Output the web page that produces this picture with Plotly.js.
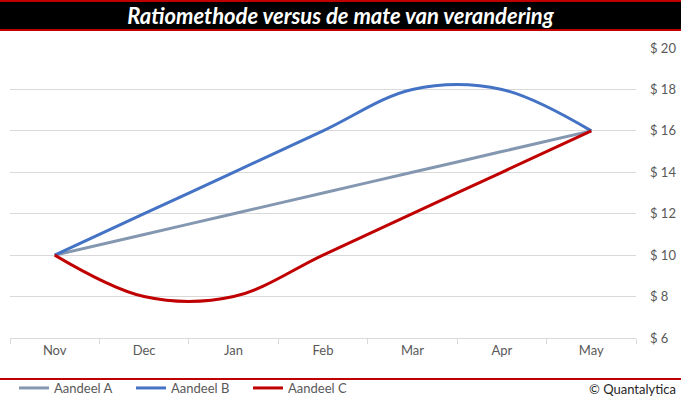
<!DOCTYPE html>
<html>
<head>
<meta charset="utf-8">
<script src="https://cdn.plot.ly/plotly-3.0.1.min.js"></script>
<style>html,body{margin:0;padding:0;background:#fff;}#chart{width:681px;height:399px;}</style>
</head>
<body>
<div id="chart"></div>
<script>
const months = ["Nov", "Dec", "Jan", "Feb", "Mar", "Apr", "May"];
const aandeelA = [10, 11, 12, 13, 14, 15, 16];
const aandeelB = [10, 12, 14, 16, 18, 18, 16];
const aandeelC = [10, 8, 8, 10, 12, 14, 16];
const seriesNames = ["Aandeel A", "Aandeel B", "Aandeel C"];
const yTicks = [6, 8, 10, 12, 14, 16, 18, 20];
const yTickLabels = yTicks.map(v => "$ " + v);

const W = 681, H = 399, L = 10, R = 45, T = 48, B = 61;
const pw = W - L - R, ph = H - T - B;
const px = x => (x - L) / pw;
const py = y => (H - B - y) / ph;
const FONT = "Lato, 'Liberation Sans', sans-serif";

const mk = (y, name, color) => ({
  x: months, y: y, name: name, type: "scatter", mode: "lines",
  line: {color: color, width: 3, shape: "spline", smoothing: 1},
  hoverinfo: "skip"
});

const data = [
  mk(aandeelA, seriesNames[0], "#8497B0"),
  mk(aandeelB, seriesNames[1], "#4472C4"),
  mk(aandeelC, seriesNames[2], "#C00000")
];

const layout = {
  width: W, height: H,
  margin: {l: L, r: R, t: T, b: B, pad: 0, autoexpand: false},
  paper_bgcolor: "#fff", plot_bgcolor: "#fff",
  font: {family: FONT, size: 13, color: "#595959"},
  title: {
    text: "<b><i>Ratiomethode versus de mate van verandering</i></b>",
    font: {family: FONT, size: 22, color: "#ffffff"},
    xref: "paper", x: px(340.5), xanchor: "center",
    yref: "container", y: 1 - 16.5 / H, yanchor: "middle"
  },
  xaxis: {
    type: "category", range: [-0.5, 6.5], fixedrange: true,
    showgrid: false, zeroline: false,
    showline: true, linecolor: "#d9d9d9", linewidth: 1,
    ticks: "outside", tickson: "boundaries", ticklen: 5, tickcolor: "#d9d9d9",
    tickfont: {family: FONT, size: 13, color: "#595959"}
  },
  yaxis: {
    range: [6, 20], side: "right", fixedrange: true,
    tickvals: yTicks, ticktext: yTickLabels,
    showgrid: true, gridcolor: "#d9d9d9", gridwidth: 1,
    zeroline: false, showline: false, ticks: "",
    ticklabelstandoff: 13,
    tickfont: {family: FONT, size: 13, color: "#595959"}
  },
  showlegend: true,
  legend: {
    orientation: "h", x: px(14), xanchor: "left", y: py(388), yanchor: "middle",
    font: {family: FONT, size: 13, color: "#595959"},
    bgcolor: "rgba(0,0,0,0)", itemwidth: 30,
    entrywidth: 72, entrywidthmode: "pixels", tracegroupgap: 0
  },
  shapes: [
    {type: "rect", xref: "paper", yref: "paper", x0: px(0), x1: px(W), y0: py(31), y1: py(0),
     fillcolor: "#C00000", line: {width: 0}, layer: "below"},
    {type: "rect", xref: "paper", yref: "paper", x0: px(0), x1: px(W), y0: py(29), y1: py(2),
     fillcolor: "#000000", line: {width: 0}, layer: "below"},
    {type: "line", xref: "paper", yref: "paper", x0: px(0), x1: px(W), y0: py(379), y1: py(379),
     line: {color: "#C00000", width: 2}}
  ],
  annotations: [
    {text: "© Quantalytica", xref: "paper", yref: "paper", x: px(678), y: py(389),
     xanchor: "right", yanchor: "middle", showarrow: false,
     font: {family: FONT, size: 13, color: "#262626"}}
  ]
};

Plotly.newPlot("chart", data, layout, {displayModeBar: false, staticPlot: true});
</script>
</body>
</html>
